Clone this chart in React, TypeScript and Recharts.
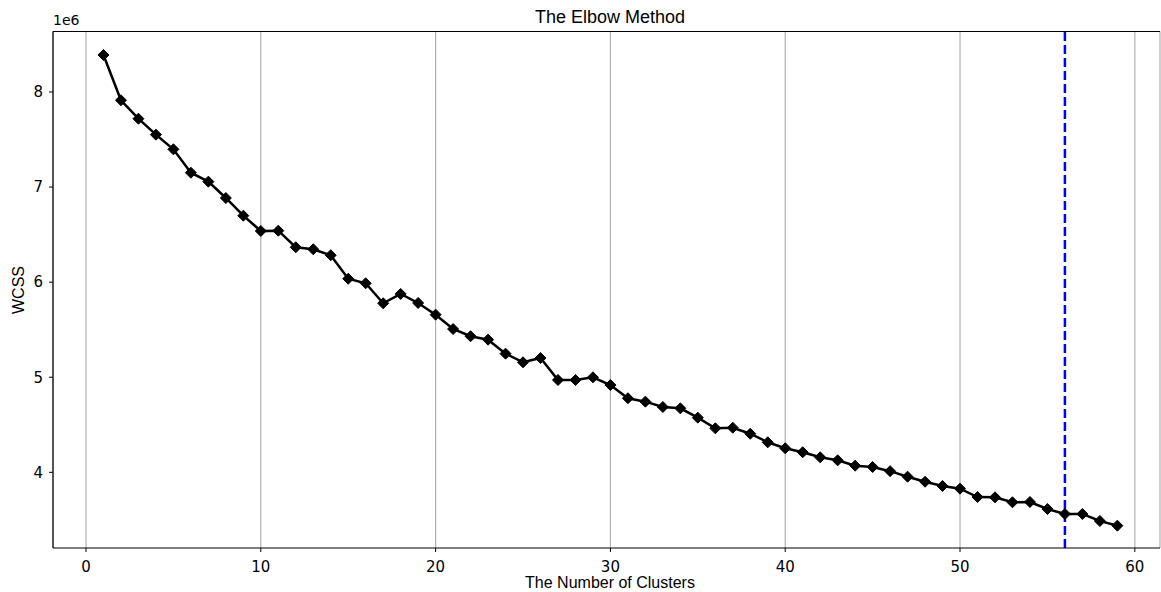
import React from "react";
import {
  LineChart,
  Line,
  XAxis,
  YAxis,
  CartesianGrid,
  ReferenceLine,
} from "recharts";

const clusters = [
  1, 2, 3, 4, 5, 6, 7, 8, 9, 10, 11, 12, 13, 14, 15, 16, 17, 18, 19, 20, 21,
  22, 23, 24, 25, 26, 27, 28, 29, 30, 31, 32, 33, 34, 35, 36, 37, 38, 39, 40,
  41, 42, 43, 44, 45, 46, 47, 48, 49, 50, 51, 52, 53, 54, 55, 56, 57, 58, 59,
];

const wcss = [
  8389000, 7913000, 7719000, 7551000, 7397000, 7151000, 7057000, 6885000,
  6699000, 6538000, 6541000, 6367000, 6346000, 6283000, 6036000, 5988000,
  5778000, 5876000, 5781000, 5658000, 5507000, 5431000, 5395000, 5248000,
  5157000, 5202000, 4971000, 4971000, 4999000, 4918000, 4779000, 4743000,
  4687000, 4673000, 4575000, 4463000, 4469000, 4406000, 4316000, 4253000,
  4211000, 4158000, 4126000, 4070000, 4056000, 4012000, 3954000, 3901000,
  3856000, 3828000, 3740000, 3737000, 3685000, 3688000, 3614000, 3562000,
  3562000, 3488000, 3439000,
];

const xTicks = [0, 10, 20, 30, 40, 50, 60];
const yTicks = [4000000, 5000000, 6000000, 7000000, 8000000];
const elbowK = 56;

const xDomain = [-1.888, 61.44];
const yDomain = [3204000, 8636000];

const data = clusters.map((k, i) => ({ k, wcss: wcss[i] }));

const Diamond = (props: any) => {
  const { cx, cy } = props;
  if (cx == null || cy == null) return null;
  const r = 5.5;
  return (
    <polygon
      points={`${cx},${cy - r} ${cx + r},${cy} ${cx},${cy + r} ${cx - r},${cy}`}
      fill="#000"
      stroke="#000"
      strokeWidth={1}
    />
  );
};

const tickFont = {
  fontFamily: "'DejaVu Sans', sans-serif",
  fontSize: 15,
  fill: "#000",
};

const labelFont = "'Liberation Sans', Arial, sans-serif";

export default function App() {
  return (
    <div
      style={{
        position: "absolute",
        left: 0,
        top: 0,
        width: 1161,
        height: 592,
        background: "#fff",
      }}
    >
      <LineChart
        width={1161}
        height={592}
        data={data}
        margin={{ top: 31.5, right: 1, bottom: 0, left: 8 }}
      >
        <CartesianGrid
          horizontal={false}
          vertical={true}
          stroke="#b0b0b0"
          strokeWidth={1.2}
        />
        <XAxis
          dataKey="k"
          type="number"
          domain={xDomain}
          ticks={xTicks}
          allowDataOverflow
          height={44}
          tick={tickFont}
          tickSize={4}
          tickMargin={9}
          tickLine={{ stroke: "#000" }}
          axisLine={{ stroke: "#000", strokeWidth: 1.2 }}
        />
        <YAxis
          type="number"
          domain={yDomain}
          ticks={yTicks}
          allowDataOverflow
          width={45}
          tick={tickFont}
          tickSize={4}
          tickMargin={6}
          tickFormatter={(v: number) => String(v / 1000000)}
          tickLine={{ stroke: "#000" }}
          axisLine={{ stroke: "#000", strokeWidth: 1.2 }}
        />
        <ReferenceLine
          y={yDomain[1]}
          stroke="#000"
          strokeWidth={1.2}
          ifOverflow="extendDomain"
        />
        <ReferenceLine
          x={elbowK}
          stroke="#0000ff"
          strokeWidth={2.5}
          strokeDasharray="9 4"
        />
        <Line
          type="linear"
          dataKey="wcss"
          stroke="#000"
          strokeWidth={2.5}
          dot={<Diamond />}
          activeDot={false}
          isAnimationActive={false}
        />
      </LineChart>
      <div
        style={{
          position: "absolute",
          left: 410,
          width: 400,
          top: 7,
          textAlign: "center",
          fontFamily: labelFont,
          fontSize: 18,
          lineHeight: "20px",
          color: "#000",
        }}
      >
        The Elbow Method
      </div>
      <div
        style={{
          position: "absolute",
          left: 53,
          top: 12,
          fontFamily: "'DejaVu Sans', sans-serif",
          fontSize: 14,
          lineHeight: "16px",
          color: "#000",
        }}
      >
        1e6
      </div>
      <div
        style={{
          position: "absolute",
          left: 410,
          width: 400,
          top: 574,
          textAlign: "center",
          fontFamily: labelFont,
          fontSize: 16,
          lineHeight: "18px",
          color: "#000",
        }}
      >
        The Number of Clusters
      </div>
      <div
        style={{
          position: "absolute",
          left: 19,
          top: 290,
          transform: "translate(-50%, -50%) rotate(-90deg)",
          fontFamily: labelFont,
          fontSize: 16,
          lineHeight: "18px",
          color: "#000",
          whiteSpace: "nowrap",
        }}
      >
        WCSS
      </div>
    </div>
  );
}
